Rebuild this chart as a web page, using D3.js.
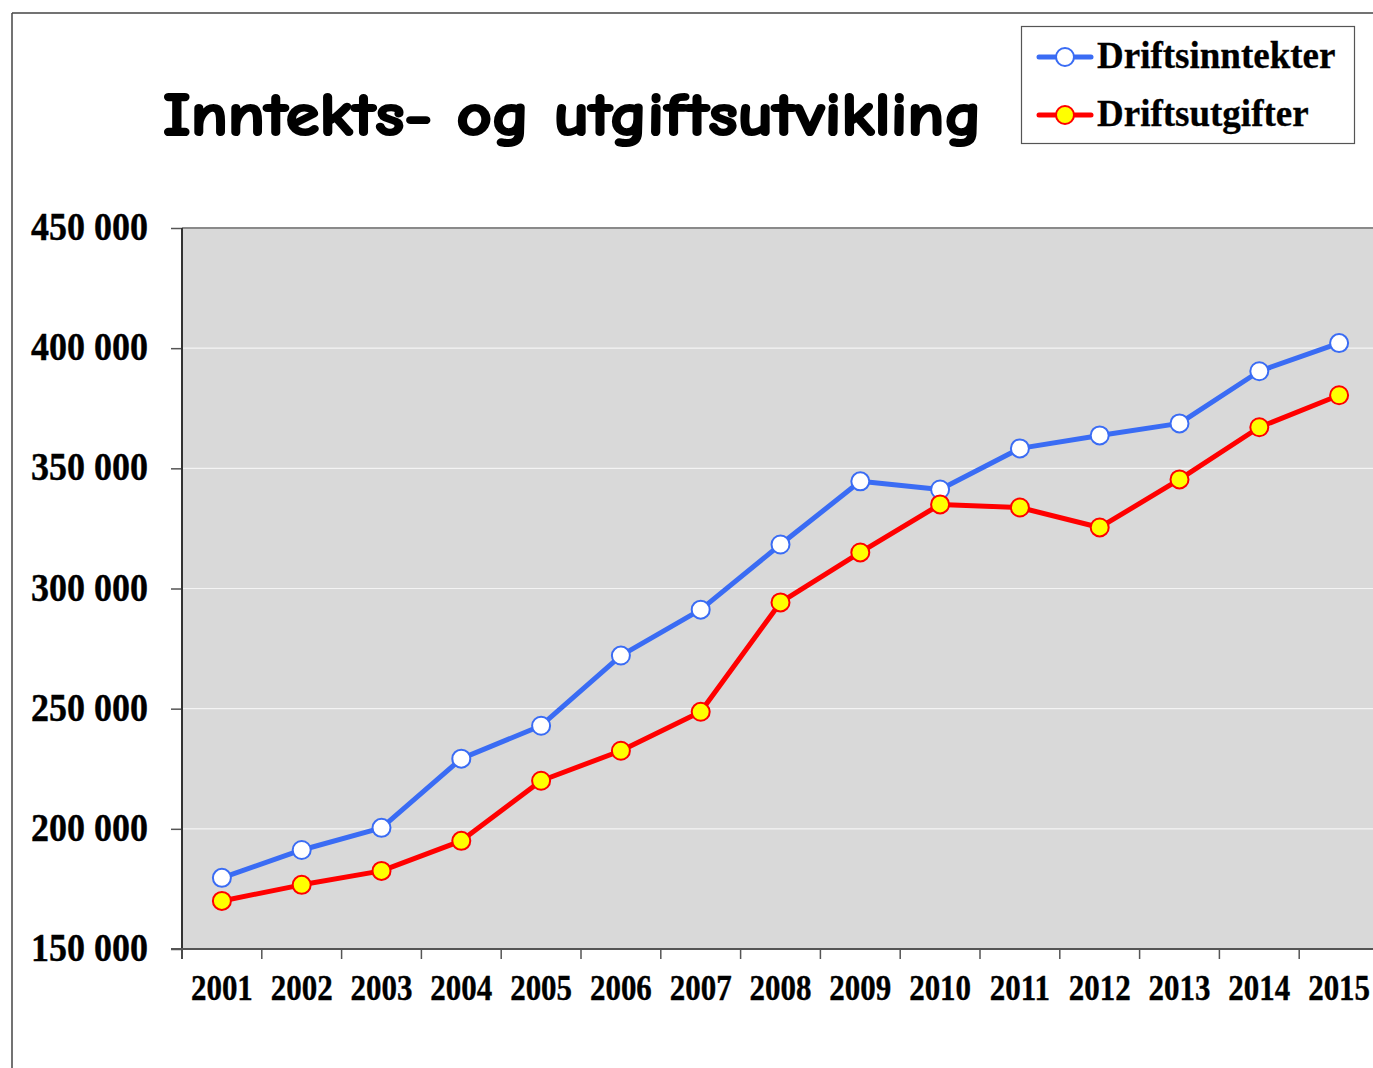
<!DOCTYPE html>
<html>
<head>
<meta charset="utf-8">
<script src="https://cdn.jsdelivr.net/npm/d3@7/dist/d3.min.js"></script>
<style>
  html, body { margin: 0; padding: 0; background: #fff; }
  svg { display: block; }
</style>
</head>
<body>
<svg id="chart" width="1373" height="1068"></svg>
<script>
const years = ["2001","2002","2003","2004","2005","2006","2007","2008","2009","2010","2011","2012","2013","2014","2015"];
const driftsinntekter = [179600, 191200, 200400, 229200, 242900, 272100, 291200, 318300, 344600, 341200, 358300, 363700, 368700, 390400, 402100];
const driftsutgifter = [170000, 176700, 182500, 195000, 220000, 232500, 248700, 294200, 315000, 335000, 333700, 325400, 345400, 367100, 380400];
const yTicks = [150000, 200000, 250000, 300000, 350000, 400000, 450000];
const seriesNames = ["Driftsinntekter", "Driftsutgifter"];
const titleText = "Inntekts- og utgiftsutvikling";

(function () {
const svg = d3.select("#chart");
const W = 1373, H = 1068;

// outer frame
svg.append("line").attr("x1", 12).attr("y1", 13).attr("x2", W).attr("y2", 13)
  .attr("stroke", "#444").attr("stroke-width", 1.5);
svg.append("line").attr("x1", 12).attr("y1", 13).attr("x2", 12).attr("y2", H)
  .attr("stroke", "#444").attr("stroke-width", 1.5);

const pLeft = 182, pTop = 228, pBottom = 949, band = 79.8;
const pRight = pLeft + band * years.length;
const x = d3.scaleBand().domain(years).range([pLeft, pRight]).padding(0);
const y = d3.scaleLinear().domain([150000, 450000]).range([pBottom, pTop]);

// plot background
svg.append("rect").attr("x", pLeft).attr("y", pTop)
  .attr("width", pRight - pLeft).attr("height", pBottom - pTop)
  .attr("fill", "#d9d9d9");

// gridlines
svg.append("g").selectAll("line").data(yTicks.filter(v => v > 150000 && v < 450000)).join("line")
  .attr("x1", pLeft).attr("x2", pRight)
  .attr("y1", d => y(d)).attr("y2", d => y(d))
  .attr("stroke", "#f4f4f4").attr("stroke-width", 1.2);

// top border of plot
svg.append("line").attr("x1", pLeft).attr("x2", pRight)
  .attr("y1", pTop).attr("y2", pTop).attr("stroke", "#8a8a8a").attr("stroke-width", 2);

// y axis ticks
const yAxis = d3.axisLeft(y).tickValues(yTicks).tickSize(11).tickPadding(0).tickFormat(() => "");
const gy = svg.append("g").attr("transform", `translate(${pLeft},0)`).call(yAxis);
gy.select(".domain").remove();
gy.selectAll(".tick line").attr("stroke", "#555").attr("stroke-width", 1.5);
svg.append("line").attr("x1", pLeft).attr("x2", pLeft).attr("y1", pTop).attr("y2", pBottom + 10)
  .attr("stroke", "#333").attr("stroke-width", 2);

// y labels
const fmt = v => d3.format(",")(v).replace(/,/g, " ");
svg.append("g").selectAll("text").data(yTicks).join("text")
  .attr("transform", d => `translate(148,${y(d) + 12}) scale(0.9,1)`)
  .attr("text-anchor", "end")
  .attr("font-family", "'Times New Roman', 'Liberation Serif', serif")
  .attr("font-weight", "bold").attr("font-size", 40)
  .attr("fill", "#000").attr("stroke", "#000").attr("stroke-width", 0.4)
  .text(fmt);

// x axis
const boundaries = years.map(d => x(d)).concat([pRight]);
svg.append("line").attr("x1", 171).attr("x2", pRight)
  .attr("y1", pBottom).attr("y2", pBottom).attr("stroke", "#555").attr("stroke-width", 2);
svg.append("g").selectAll("line").data(boundaries).join("line")
  .attr("x1", d => d).attr("x2", d => d).attr("y1", pBottom).attr("y2", pBottom + 10)
  .attr("stroke", "#555").attr("stroke-width", 1.5);

svg.append("g").selectAll("text").data(years).join("text")
  .attr("transform", d => `translate(${x(d) + band / 2},${pBottom + 51}) scale(0.86,1)`)
  .attr("text-anchor", "middle")
  .attr("font-family", "'Times New Roman', 'Liberation Serif', serif")
  .attr("font-weight", "bold").attr("font-size", 36)
  .attr("fill", "#000").attr("stroke", "#000").attr("stroke-width", 0.4)
  .text(d => d);

// series
const series = [
  { name: seriesNames[0], values: driftsinntekter, stroke: "#3a6cf4", fill: "#ffffff" },
  { name: seriesNames[1], values: driftsutgifter, stroke: "#ff0000", fill: "#ffff00" }
];
const line = d3.line().x((d, i) => x(years[i]) + band / 2).y(d => y(d));

series.forEach(s => {
  svg.append("path").datum(s.values).attr("d", line)
    .attr("fill", "none").attr("stroke", s.stroke).attr("stroke-width", 5)
    .attr("stroke-linejoin", "round");
  svg.append("g").selectAll("circle").data(s.values).join("circle")
    .attr("cx", (d, i) => x(years[i]) + band / 2).attr("cy", d => y(d))
    .attr("r", 9).attr("fill", s.fill).attr("stroke", s.stroke).attr("stroke-width", 2);
});

// title
svg.append("text")
  .attr("x", 163).attr("y", 135)
  .attr("font-family", "'Comic Sans MS', 'Comic Neue', 'DejaVu Sans', sans-serif")
  .attr("font-weight", "bold").attr("font-size", 60)
  .attr("textLength", 819).attr("lengthAdjust", "spacingAndGlyphs")
  .attr("fill", "#000").attr("stroke", "#000").attr("stroke-width", 2.2)
  .attr("stroke-linejoin", "round")
  .text(titleText);

// legend
svg.append("rect").attr("x", 1021.5).attr("y", 26.5).attr("width", 333).attr("height", 117)
  .attr("fill", "#fff").attr("stroke", "#555").attr("stroke-width", 1.2);
const lg = svg.append("g").selectAll("g").data(series).join("g")
  .attr("transform", (d, i) => `translate(0,${57 + i * 58})`);
lg.append("line").attr("x1", 1039).attr("x2", 1091).attr("y1", 0).attr("y2", 0)
  .attr("stroke", d => d.stroke).attr("stroke-width", 5).attr("stroke-linecap", "round");
lg.append("circle").attr("cx", 1065).attr("cy", 0).attr("r", 9)
  .attr("fill", d => d.fill).attr("stroke", d => d.stroke).attr("stroke-width", 2);
lg.append("text").attr("x", 1097).attr("y", 11)
  .attr("font-family", "'Times New Roman', 'Liberation Serif', serif")
  .attr("font-weight", "bold").attr("font-size", 37).attr("fill", "#000")
  .attr("stroke", "#000").attr("stroke-width", 0.3)
  .text(d => d.name);
})();
</script>
</body>
</html>
